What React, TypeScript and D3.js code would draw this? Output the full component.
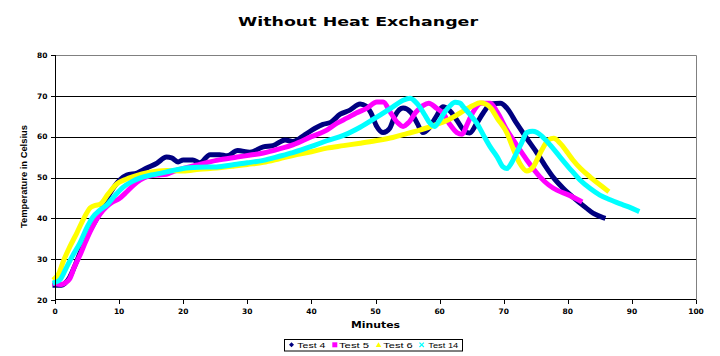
import React from "react";
import * as d3 from "d3";

type Pt = [number, number];

const title = "Without Heat Exchanger";
const xTitle = "Minutes";
const yTitle = "Temperature in Celsius";
const seriesNames = ["Test 4", "Test 5", "Test 6", "Test 14"];
const seriesColors = ["#000080", "#FF00FF", "#FFFF00", "#00FFFF"];
const xTicks = [0, 10, 20, 30, 40, 50, 60, 70, 80, 90, 100];
const yTicks = [20, 30, 40, 50, 60, 70, 80];

const test4: Pt[] = [
  [0, 23.6], [1, 23.6], [1.5, 24], [2.3, 25.6], [3, 28], [3.9, 31.5], [4.7, 34.5], [5.5, 37.1],
  [7, 41.3], [8.6, 46.2], [10.1, 49.4], [11.2, 50.6], [12.8, 51.1], [14.3, 52.3], [15.9, 53.5],
  [17.4, 55], [18.2, 54.8], [19.2, 53.8], [20, 54.3], [21.5, 54.3], [22.6, 53.6], [24.2, 55.6],
  [25.7, 55.6], [26.8, 55.3], [28.5, 56.6], [30.4, 56.2], [32.5, 57.5], [34, 57.8], [35.9, 59.2],
  [37.1, 58.8], [39, 60.5], [40.5, 62], [41.8, 63], [43, 63.5], [44.5, 65.5], [46, 66.5],
  [47.6, 68], [48.5, 67.5], [49.3, 65.8], [50.2, 62.5], [51.2, 61], [52.2, 62], [53, 65],
  [54.3, 67], [55.5, 66], [56.5, 63.3], [57.4, 61], [58.3, 62], [59.5, 65], [60.5, 67.3],
  [61.5, 66.5], [62.7, 64], [63.8, 61.5], [64.7, 60.9], [65.7, 63], [66.8, 65.8], [68, 68],
  [69.5, 68.2], [70.5, 67], [72, 63.3], [73.5, 59.8], [75.2, 56], [76.5, 52.8], [77.7, 50.1],
  [79.2, 47.5], [80.8, 45.2], [82.9, 42.5], [84, 41.2], [85.5, 40.2],
];

const test5: Pt[] = [
  [0, 24], [1, 23.8], [1.6, 24.2], [2.3, 25.2], [3, 28], [3.9, 31], [4.7, 34], [5.5, 36.8],
  [7, 41], [8, 42.8], [9, 44], [10, 44.8], [11.2, 46.5], [12.3, 48.2], [13.3, 49.4], [14.5, 50.3],
  [15.9, 50.6], [17.4, 50.8], [18.5, 51.5], [20, 52.2], [22, 53], [25.2, 54.2], [28.4, 55],
  [30.5, 55.5], [32.5, 56], [35, 57], [37.1, 58], [40, 60], [42.4, 61.6], [44, 63.3],
  [45.6, 64.6], [47, 65.8], [48.7, 67], [50.2, 68.5], [51.2, 68.5], [52.3, 66], [53.4, 63.5],
  [54.3, 62.5], [55.2, 63.5], [56.3, 66], [57.4, 67.6], [58.3, 68.2], [59.5, 67], [60.5, 65.8],
  [61.6, 63], [62.7, 61], [63.5, 60.6], [64.3, 63], [65.2, 66], [66.5, 68.2], [67.9, 68.2],
  [69, 66], [70.5, 61.6], [72, 58], [73.6, 54.3], [75.7, 50.1], [77, 48.2], [78.3, 46.9],
  [80, 45.8], [81.9, 44.3],
];

const test6: Pt[] = [
  [0, 25.3], [0.6, 26.5], [1.3, 29.5], [2.3, 33], [3.4, 36.4], [4.5, 40], [5.5, 42.6], [6.3, 43.2],
  [7, 43.4], [8.3, 46], [9.6, 48.4], [11, 49.5], [12.2, 50.2], [14.8, 51.3], [17.4, 51.7],
  [20, 51.6], [22.5, 52], [25.2, 52.3], [28, 52.8], [30, 53.2], [32.5, 53.7], [35, 54.6],
  [37.1, 55.4], [40, 56.3], [42.4, 57.2], [45, 57.8], [47.6, 58.4], [50, 59], [52.7, 59.8],
  [55, 60.8], [56.9, 61.6], [59, 62.7], [61.2, 64], [63.2, 65.8], [65.2, 67.6], [66.3, 68.3],
  [67.2, 68], [68, 67], [69, 64.5], [70.5, 60.9], [71.5, 57], [72.5, 53.5], [73.6, 51.6],
  [74.6, 52.6], [75.7, 56], [77, 59.2], [77.8, 59.6], [78.8, 58.4], [80, 56], [80.8, 54.3],
  [82, 52.2], [83.5, 50.1], [85, 48.2], [86.1, 46.9],
];

const test14: Pt[] = [
  [0, 24.3], [0.8, 25], [1.8, 28], [2.8, 31], [3.9, 34], [4.9, 37.5], [5.9, 40.3], [7, 42],
  [8.1, 43.3], [9.3, 45.5], [10.6, 47.6], [12, 49], [13.3, 49.9], [15, 50.6], [16.4, 51],
  [18, 51.6], [20, 52.2], [22.5, 52.5], [25.2, 52.6], [28, 53.2], [30, 53.6], [32.5, 54.2],
  [35, 55.2], [37.1, 56.1], [40, 57.6], [42.4, 59], [45, 60.3], [47.6, 62.3], [50.2, 64.8],
  [52.7, 67.3], [54.3, 68.9], [55.4, 69.4], [56.2, 68.6], [56.9, 67.3], [57.7, 65.3],
  [58.5, 63.3], [59.2, 62.5], [60, 64], [60.8, 66], [61.6, 67.5], [62.4, 68.4], [63.2, 68.2],
  [63.7, 67.3], [64.7, 65.5], [65.8, 63.3], [66.8, 60.5], [67.9, 57.5], [69, 55], [69.9, 52.6],
  [70.5, 52.2], [71.2, 53.5], [72, 56], [72.8, 58.5], [73.6, 61], [74.5, 61.3], [75.2, 61],
  [76.1, 59.9], [77.5, 57.5], [78.8, 55], [80.3, 52.2], [81.9, 49.4], [83.5, 47.3], [85, 45.7],
  [86.5, 44.6], [88.1, 43.6], [89.5, 42.8], [90.8, 41.9],
];

const seriesData = [test4, test5, test6, test14];

const W = 720;
const H = 356;

export default function App() {
  const x = d3.scaleLinear().domain([0, 100]).range([55, 696]);
  const y = d3.scaleLinear().domain([20, 80]).range([300, 55]);
  const line = d3
    .line<Pt>()
    .x((d) => x(d[0]))
    .y((d) => y(d[1]))
    .curve(d3.curveMonotoneX);

  const legendMarkerX = [291.5, 334.8, 378.5, 421.7];
  const legendTextX = [297.3, 339, 383.3, 428.3];
  const legendTextW = [28, 30, 29.4, 30];

  const marker = (i: number, cx: number, cy: number) => {
    const c = seriesColors[i];
    if (i === 0)
      return <path d={`M${cx},${cy - 2.5}L${cx + 2.5},${cy}L${cx},${cy + 2.5}L${cx - 2.5},${cy}Z`} fill={c} />;
    if (i === 1) return <rect x={cx - 2.5} y={cy - 2.5} width={5} height={5} fill={c} />;
    if (i === 2)
      return <path d={`M${cx},${cy - 2.5}L${cx + 2.8},${cy + 2.2}L${cx - 2.8},${cy + 2.2}Z`} fill={c} />;
    return (
      <path
        d={`M${cx - 2.2},${cy - 2.2}L${cx + 2.2},${cy + 2.2}M${cx + 2.2},${cy - 2.2}L${cx - 2.2},${cy + 2.2}`}
        stroke={c}
        strokeWidth={1.2}
      />
    );
  };

  return (
    <svg
      width={W}
      height={H}
      style={{ position: "absolute", left: 0, top: 0, display: "block", background: "#fff" }}
    >
      <rect x={0} y={0} width={W} height={H} fill="#fff" />
      <text
        x={238}
        y={25.5}
        textLength={240}
        lengthAdjust="spacingAndGlyphs"
        fontFamily="DejaVu Sans"
        fontWeight="bold"
        fontSize={11.5}
        fill="#000"
      >
        {title}
      </text>

      {/* gridlines */}
      {yTicks
        .filter((t) => t > 20 && t < 80)
        .map((t) => (
          <line key={t} x1={55} x2={696} y1={Math.round(y(t)) + 0.5} y2={Math.round(y(t)) + 0.5} stroke="#000" strokeWidth={1} />
        ))}
      {/* plot border (top/right) */}
      <line x1={55} x2={696.5} y1={55.5} y2={55.5} stroke="#808080" strokeWidth={1} />
      <line x1={696.5} x2={696.5} y1={55.5} y2={300} stroke="#808080" strokeWidth={1} />

      {/* series */}
      {seriesData.map((d, i) => (
        <path
          key={i}
          d={line(d) || ""}
          fill="none"
          stroke={seriesColors[i]}
          strokeWidth={5}
          strokeLinejoin="round"
          strokeLinecap="square"
        />
      ))}

      {/* axes */}
      <line x1={55.5} x2={55.5} y1={55} y2={300} stroke="#000" strokeWidth={1} />
      <line x1={55} x2={696} y1={299.5} y2={299.5} stroke="#000" strokeWidth={1} />
      {yTicks.map((t) => (
        <g key={t}>
          <line x1={51} x2={55} y1={Math.round(y(t)) + 0.5} y2={Math.round(y(t)) + 0.5} stroke="#000" />
          <text
            x={47.5}
            y={y(t) + 2.8}
            textAnchor="end"
            fontFamily="DejaVu Sans"
            fontWeight="bold"
            fontSize={7.5}
            fill="#000"
          >
            {t}
          </text>
        </g>
      ))}
      {xTicks.map((t) => (
        <g key={t}>
          <line x1={Math.round(x(t)) + 0.5} x2={Math.round(x(t)) + 0.5} y1={300} y2={304} stroke="#000" />
          <text
            x={x(t)}
            y={313.5}
            textAnchor="middle"
            fontFamily="DejaVu Sans"
            fontWeight="bold"
            fontSize={7.5}
            fill="#000"
          >
            {t}
          </text>
        </g>
      ))}

      <text
        x={351}
        y={328.3}
        textLength={49}
        lengthAdjust="spacingAndGlyphs"
        fontFamily="DejaVu Sans"
        fontWeight="bold"
        fontSize={8.5}
        fill="#000"
      >
        {xTitle}
      </text>
      <text
        transform={`translate(26.5,228) rotate(-90)`}
        x={0}
        y={0}
        textLength={103}
        lengthAdjust="spacingAndGlyphs"
        fontFamily="Liberation Sans"
        fontWeight="bold"
        fontSize={9}
        fill="#000"
      >
        {yTitle}
      </text>

      {/* legend */}
      <rect x={284.5} y={339.5} width={178} height={11.5} fill="#fff" stroke="#000" strokeWidth={1} />
      {seriesNames.map((n, i) => (
        <g key={n}>
          {marker(i, legendMarkerX[i], 344.8)}
          <text
            x={legendTextX[i]}
            y={347.6}
            textLength={legendTextW[i]}
            lengthAdjust="spacingAndGlyphs"
            fontFamily="Liberation Sans"
            fontSize={8}
            fill="#000"
          >
            {n}
          </text>
        </g>
      ))}
    </svg>
  );
}
